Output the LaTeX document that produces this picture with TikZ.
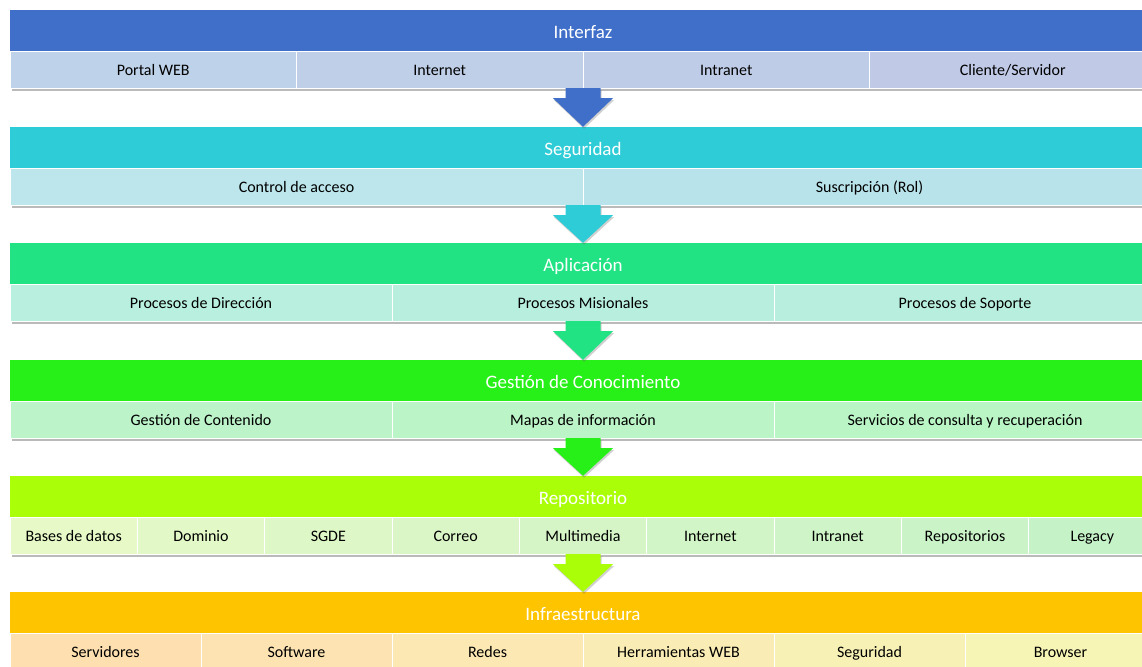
\documentclass[tikz,border=0pt]{standalone}
\usepackage{fontspec}
\setmainfont{Carlito}
\usetikzlibrary{shadows,calc}
\definecolor{hInt}{HTML}{3F6FC9}
\definecolor{hSeg}{HTML}{2ECCD7}
\definecolor{hApl}{HTML}{22E384}
\definecolor{hGes}{HTML}{26F017}
\definecolor{hRep}{HTML}{AAFF08}
\definecolor{hInf}{HTML}{FFC400}
\definecolor{cIntL}{HTML}{BED2E9}
\definecolor{cIntR}{HTML}{C0C9E6}
\definecolor{cSegL}{HTML}{BCE6EC}
\definecolor{cSegR}{HTML}{B9E3EA}
\definecolor{cAplL}{HTML}{B9EFDE}
\definecolor{cAplR}{HTML}{B8EEDD}
\definecolor{cGesL}{HTML}{BCF3C9}
\definecolor{cGesR}{HTML}{BAF5C5}
\definecolor{cRepL}{HTML}{E6F9C6}
\definecolor{cRepR}{HTML}{C6F2C8}
\definecolor{cInfL}{HTML}{FDDFB0}
\definecolor{cInfR}{HTML}{F7F5B6}
\tikzset{
  bandbg/.style={rectangle, minimum width=1146pt, minimum height=78pt, inner sep=0pt, fill=white,
     drop shadow={shadow xshift=1.5pt, shadow yshift=-3pt, opacity=0.45, fill=black!60}},
  hdr/.style={rectangle, minimum width=1146pt, minimum height=41pt, inner sep=0pt, text=white,
     text height=16pt, text depth=0pt, font=\fontsize{19}{22}\selectfont},
  cell/.style={rectangle, minimum height=37pt, inner sep=0pt, draw=white!75, line width=0.8pt,
     text=black, text height=12pt, text depth=0.5pt, font=\fontsize{16}{18}\selectfont},
  arr/.style={drop shadow={shadow xshift=1pt, shadow yshift=-2pt, opacity=0.3, fill=black!60}}
}
\newcommand\mkband[8]{%
  \node[bandbg] (#1) at (583,#2+39) {};
  \node[hdr, fill=#3] (#1h) at (583,#2+20.5) {#4};
  \pgfmathsetmacro\cw{1146/#7}
  \foreach \lab [count=\i] in {#8} {
    \pgfmathsetmacro\cx{10+(\i-0.5)*\cw}
    \pgfmathsetmacro\tt{(#7>1) ? 100*(\i-1)/(#7-1) : 0}
    \node[cell, minimum width=\cw pt, fill=#6!\tt!#5] (#1c\i) at (\cx,#2+59.5) {\lab};
  }
}
\newcommand\mkarrow[3]{%
  \fill[#3, arr] ($(#1.south)+(-17.5,0)$) -- ($(#1.south)+(-17.5,10)$) -- ($(#1.south)+(-30,10)$)
    -- (#2.north) -- ($(#1.south)+(30,10)$) -- ($(#1.south)+(17.5,10)$) -- ($(#1.south)+(17.5,0)$) -- cycle;
}
\begin{document}
\begin{tikzpicture}[x=1pt,y=-1pt]
\clip (0,0) rectangle (1142,666);
\fill[white] (0,0) rectangle (1142,666);
\mkband{b1}{10}{hInt}{Interfaz}{cIntL}{cIntR}{4}{Portal WEB,Internet,Intranet,Cliente/Servidor}
\mkband{b2}{127}{hSeg}{Seguridad}{cSegL}{cSegR}{2}{Control de acceso,Suscripción (Rol)}
\mkband{b3}{243}{hApl}{Aplicación}{cAplL}{cAplR}{3}{Procesos de Dirección,Procesos Misionales,Procesos de Soporte}
\mkband{b4}{360}{hGes}{Gestión de Conocimiento}{cGesL}{cGesR}{3}{Gestión de Contenido,Mapas de información,Servicios de consulta y recuperación}
\mkband{b5}{476}{hRep}{Repositorio}{cRepL}{cRepR}{9}{Bases de datos,Dominio,SGDE,Correo,Multimedia,Internet,Intranet,Repositorios,Legacy}
\mkband{b6}{592}{hInf}{Infraestructura}{cInfL}{cInfR}{6}{Servidores,Software,Redes,Herramientas WEB,Seguridad,Browser}
\mkarrow{b1}{b2}{hInt}
\mkarrow{b2}{b3}{hSeg}
\mkarrow{b3}{b4}{hApl}
\mkarrow{b4}{b5}{hGes}
\mkarrow{b5}{b6}{hRep}
\end{tikzpicture}
\end{document}
